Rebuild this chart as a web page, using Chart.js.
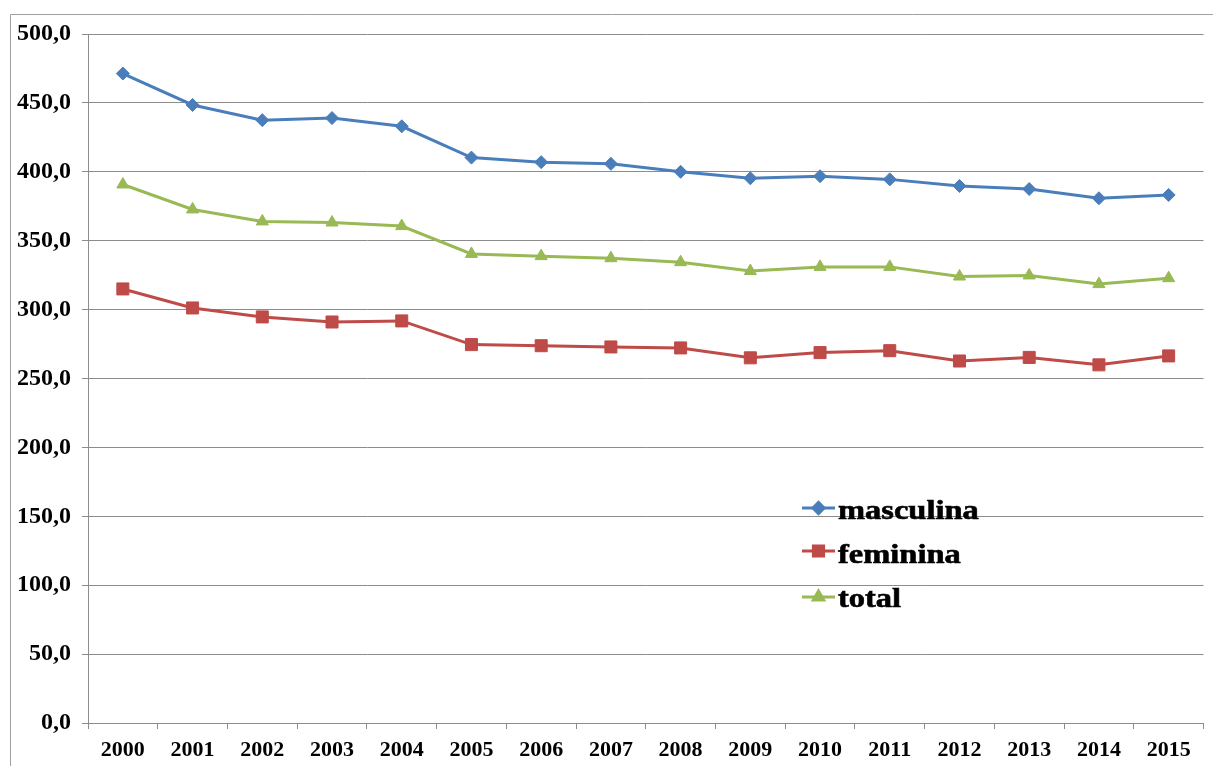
<!DOCTYPE html>
<html>
<head>
<meta charset="utf-8">
<script src="https://cdn.jsdelivr.net/npm/chart.js@4/dist/chart.umd.min.js"></script>
<style>
  html, body { margin: 0; padding: 0; background: #ffffff; }
  canvas { display: block; }
</style>
</head>
<body>
<canvas id="chart" width="1213" height="766"></canvas>
<script>
// Years on the horizontal axis
const years = ['2000', '2001', '2002', '2003', '2004', '2005', '2006', '2007',
               '2008', '2009', '2010', '2011', '2012', '2013', '2014', '2015'];

// Series values
const masculina = [471.3, 448.5, 437.5, 439.0, 433.0, 410.3, 407.0, 405.8,
                   400.0, 395.3, 396.8, 394.5, 389.7, 387.5, 380.8, 383.2];
const feminina  = [315.0, 301.2, 294.7, 291.0, 291.8, 274.6, 273.8, 272.9,
                   272.2, 265.0, 268.8, 270.2, 262.7, 265.3, 259.9, 266.4];
const total     = [390.8, 372.7, 364.0, 363.2, 360.6, 340.4, 338.8, 337.3,
                   334.4, 328.0, 331.0, 331.0, 324.0, 324.8, 318.5, 322.8];

const seriesNames = ['masculina', 'feminina', 'total'];

// Value axis range
const yMin = 0;
const yMax = 500;
const yStep = 50;

const BLUE = '#4a7ebb';
const RED = '#be4b48';
const GREEN = '#98b954';
const GRID = '#8c8c8c';
const FONT_FAMILY = '"Liberation Serif", "Times New Roman", serif';

// White page background and the outer frame line
const framePlugin = {
  id: 'frame',
  beforeDraw(chart) {
    const ctx = chart.ctx;
    ctx.save();
    ctx.fillStyle = '#ffffff';
    ctx.fillRect(0, 0, chart.width, chart.height);
    ctx.strokeStyle = '#a0a0a0';
    ctx.lineWidth = 1;
    ctx.beginPath();
    ctx.moveTo(10.5, chart.height);
    ctx.lineTo(10.5, 14.5);
    ctx.lineTo(chart.width, 14.5);
    ctx.stroke();
    ctx.restore();
  }
};

// Legend drawn inside the plot area, below the lines
const inlineLegend = {
  id: 'inlineLegend',
  afterDraw(chart) {
    const ctx = chart.ctx;
    const rows = [
      { y: 508, base: 519 },
      { y: 551, base: 562.5 },
      { y: 597, base: 607 }
    ];
    chart.data.datasets.forEach((ds, i) => {
      const r = rows[i];
      ctx.save();
      ctx.strokeStyle = ds.borderColor;
      ctx.lineWidth = 3;
      ctx.beginPath();
      ctx.moveTo(802, r.y);
      ctx.lineTo(835, r.y);
      ctx.stroke();
      ctx.fillStyle = ds.pointBackgroundColor;
      ctx.strokeStyle = ds.pointBorderColor;
      Chart.helpers.drawPoint(ctx, {
        pointStyle: ds.pointStyle,
        radius: ds.pointRadius * 0.85,
        rotation: 0,
        borderWidth: 1
      }, 818.5, r.y);
      ctx.restore();

      ctx.save();
      ctx.fillStyle = '#000000';
      ctx.strokeStyle = '#000000';
      ctx.lineWidth = 0.6;
      ctx.font = 'bold 28px ' + FONT_FAMILY;
      ctx.textBaseline = 'alphabetic';
      ctx.textAlign = 'left';
      ctx.translate(838, r.base);
      ctx.scale(1.16, 1);
      ctx.fillText(ds.label, 0, 0);
      ctx.strokeText(ds.label, 0, 0);
      ctx.restore();
    });
  }
};

function lineSet(label, data, color, style, radius) {
  return {
    label: label,
    data: data,
    borderColor: color,
    backgroundColor: color,
    pointBackgroundColor: color,
    pointBorderColor: color,
    pointStyle: style,
    pointRadius: radius,
    pointBorderWidth: 1,
    borderWidth: 3,
    tension: 0,
    fill: false
  };
}

new Chart(document.getElementById('chart'), {
  type: 'line',
  data: {
    labels: years,
    datasets: [
      lineSet(seriesNames[0], masculina, BLUE, 'rectRot', 6.5),
      lineSet(seriesNames[1], feminina, RED, 'rect', 8.5),
      lineSet(seriesNames[2], total, GREEN, 'triangle', 7)
    ]
  },
  options: {
    responsive: false,
    animation: false,
    devicePixelRatio: 1,
    layout: { padding: { left: 0, top: 34, right: 6, bottom: 0 } },
    plugins: {
      legend: { display: false },
      tooltip: { enabled: false }
    },
    scales: {
      x: {
        type: 'category',
        offset: true,
        grid: {
          display: true,
          drawOnChartArea: false,
          drawTicks: true,
          tickLength: 6,
          color: GRID,
          offset: true
        },
        border: { display: true, color: GRID, width: 1 },
        ticks: {
          color: '#000000',
          font: { family: FONT_FAMILY, size: 22, weight: 'bold' },
          padding: 8,
          maxRotation: 0,
          autoSkip: false
        },
        afterFit(scale) {
          scale.height = 43;
          scale.paddingLeft = 0;
          scale.paddingRight = 0;
        }
      },
      y: {
        min: yMin,
        max: yMax,
        grid: { color: GRID, tickLength: 6, lineWidth: 1 },
        border: { display: true, color: GRID, width: 1 },
        ticks: {
          stepSize: yStep,
          color: '#000000',
          font: { family: FONT_FAMILY, size: 24, weight: 'bold' },
          padding: 11,
          callback: (v) => Number(v).toFixed(1).replace('.', ',')
        },
        afterFit(scale) { scale.width = 88; }
      }
    }
  },
  plugins: [framePlugin, inlineLegend]
});
</script>
</body>
</html>
